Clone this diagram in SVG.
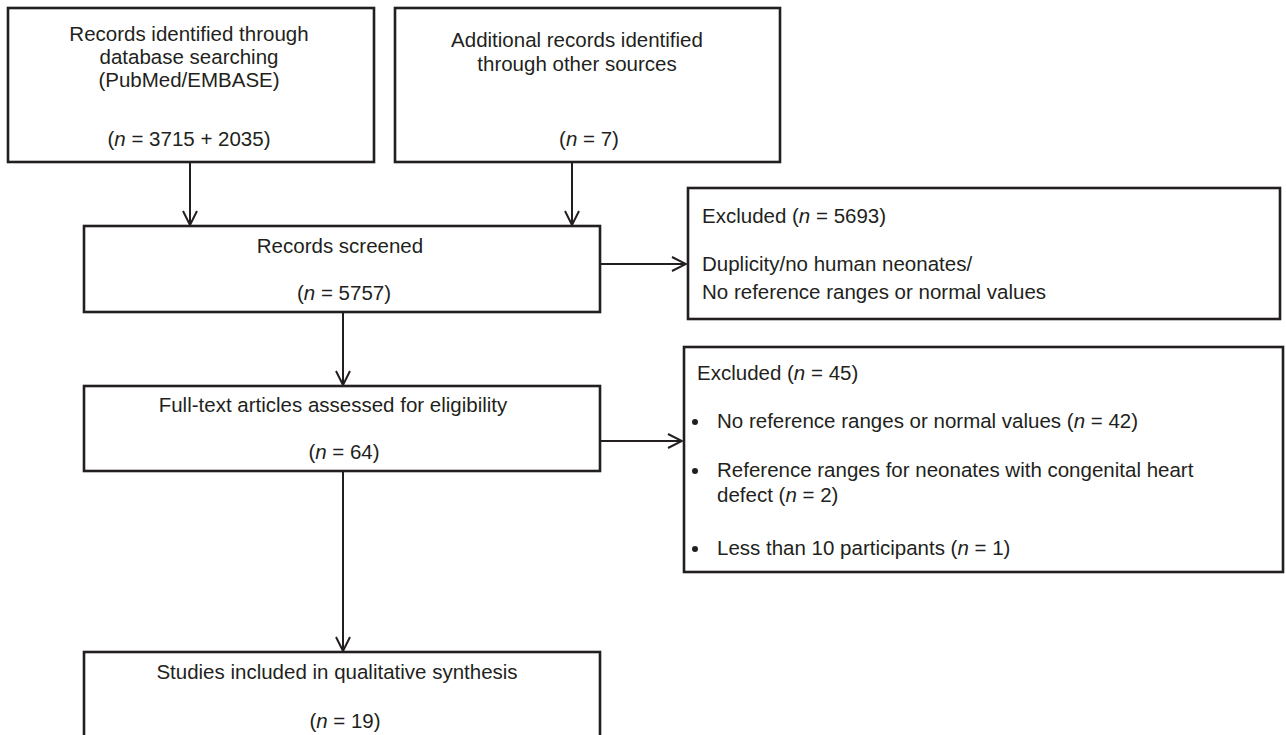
<svg xmlns="http://www.w3.org/2000/svg" width="1286" height="735" viewBox="0 0 1286 735">
<style>
.box{fill:#fff;stroke:#231f20;stroke-width:2.6}
.ln{fill:none;stroke:#231f20;stroke-width:2}
text{font-family:"Liberation Sans",Arial,sans-serif;font-size:20.5px;fill:#231f20}
.c{text-anchor:middle}
.i{font-style:italic}
</style>
<defs>
<marker id="ah" viewBox="0 0 16 16" refX="15" refY="8" markerWidth="16" markerHeight="16" markerUnits="userSpaceOnUse" orient="auto">
<path d="M1,1 L15,8 L1,15" fill="none" stroke="#231f20" stroke-width="2"/>
</marker>
</defs>
<rect width="1286" height="735" fill="#fff"/>
<g id="connectors">
<line class="ln" x1="190" y1="162" x2="190" y2="225" marker-end="url(#ah)"/>
<line class="ln" x1="572" y1="162" x2="572" y2="225" marker-end="url(#ah)"/>
<line class="ln" x1="600" y1="264" x2="686" y2="264" marker-end="url(#ah)"/>
<line class="ln" x1="343" y1="312" x2="343" y2="385" marker-end="url(#ah)"/>
<line class="ln" x1="600" y1="441" x2="682" y2="441" marker-end="url(#ah)"/>
<line class="ln" x1="343" y1="471" x2="343" y2="651" marker-end="url(#ah)"/>
</g>
<g id="db">
<rect class="box" x="8" y="8" width="366" height="154"/>
<text class="c" x="189" y="41">Records identified through</text>
<text class="c" x="189" y="64">database searching</text>
<text class="c" x="189" y="87">(PubMed/EMBASE)</text>
<text class="c" x="189" y="146">(<tspan class="i">n</tspan> = 3715 + 2035)</text>
</g>
<g id="other">
<rect class="box" x="395" y="8" width="385" height="154"/>
<text class="c" x="577" y="47">Additional records identified</text>
<text class="c" x="577" y="71">through other sources</text>
<text class="c" x="589" y="146">(<tspan class="i">n</tspan> = 7)</text>
</g>
<g id="screened">
<rect class="box" x="84" y="226" width="516" height="86"/>
<text class="c" x="340" y="253">Records screened</text>
<text class="c" x="344" y="300">(<tspan class="i">n</tspan> = 5757)</text>
</g>
<g id="excluded1">
<rect class="box" x="688" y="188" width="592" height="131"/>
<text x="702" y="223">Excluded (<tspan class="i">n</tspan> = 5693)</text>
<text x="702" y="271">Duplicity/no human neonates/</text>
<text x="702" y="299">No reference ranges or normal values</text>
</g>
<g id="fulltext">
<rect class="box" x="84" y="386" width="516" height="85"/>
<text class="c" x="333" y="412">Full-text articles assessed for eligibility</text>
<text class="c" x="344" y="459">(<tspan class="i">n</tspan> = 64)</text>
</g>
<g id="excluded2">
<rect class="box" x="684" y="347" width="599" height="225"/>
<text x="697" y="380">Excluded (<tspan class="i">n</tspan> = 45)</text>
<circle cx="695" cy="422" r="3" fill="#231f20"/>
<text x="717" y="428">No reference ranges or normal values (<tspan class="i">n</tspan> = 42)</text>
<circle cx="695" cy="471" r="3" fill="#231f20"/>
<text x="717" y="477">Reference ranges for neonates with congenital heart</text>
<text x="717" y="502">defect (<tspan class="i">n</tspan> = 2)</text>
<circle cx="695" cy="549" r="3" fill="#231f20"/>
<text x="717" y="555">Less than 10 participants (<tspan class="i">n</tspan> = 1)</text>
</g>
<g id="included">
<rect class="box" x="84" y="652" width="516" height="95"/>
<text class="c" x="337" y="679">Studies included in qualitative synthesis</text>
<text class="c" x="345" y="728">(<tspan class="i">n</tspan> = 19)</text>
</g>
</svg>
